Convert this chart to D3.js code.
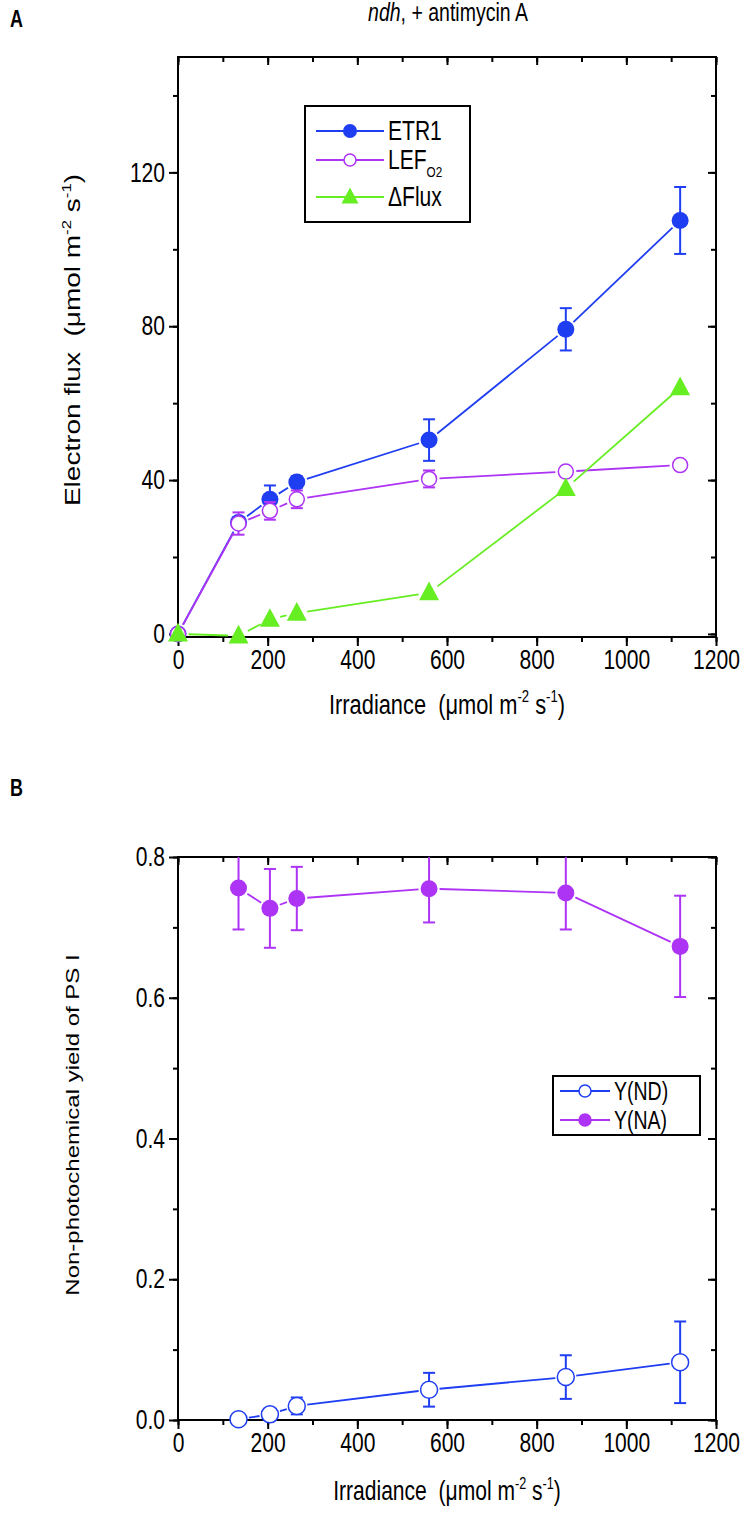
<!DOCTYPE html>
<html><head><meta charset="utf-8">
<script src="https://cdn.jsdelivr.net/npm/d3@7"></script>
<style>
body{margin:0;background:#fff;}
svg text{font-family:"Liberation Sans",Arial,sans-serif;fill:#000;}
</style></head>
<body><svg id="c" width="754" height="1528"></svg>
<script>
// ---------- DATA ----------
const irrA = [0, 135, 205, 265, 560, 865, 1120];
const etr1 = [0, 29, 35, 39.5, 50.4, 79.2, 107.5];
const etr1Err = [0, 0, 3.6, 1.5, 5.4, 5.5, 8.7];
const lef = [0, 28.7, 32, 35, 40.3, 42.2, 43.9];
const lefErr = [0, 2.9, 2.3, 2.3, 2.2, 1.0, 1.0];
const dflux = [0, -0.5, 3.8, 5.4, 10.7, 37.8, 64];

const irrB = [135, 205, 265, 560, 865, 1120];
const yND = [0.001, 0.008, 0.020, 0.043, 0.061, 0.082];
const yNDErr = [0, 0.008, 0.012, 0.024, 0.031, 0.058];
const yNA = [0.756, 0.727, 0.741, 0.755, 0.749, 0.673];
const yNAErr = [0.059, 0.056, 0.045, 0.048, 0.052, 0.072];

const xTicks = [0, 200, 400, 600, 800, 1000, 1200];
const yTicksA = [0, 40, 80, 120];
const yTicksB = [0, 0.2, 0.4, 0.6, 0.8];

const BLUE = "#1f3ef2", PURPLE = "#ad33f5", GREEN = "#66ee22";
const SX = 0.78; // horizontal condensing of the reference lettering

const svg = d3.select("#c");

function condense(sel) {
  sel.each(function () {
    const t = d3.select(this);
    const x = +(t.attr("x") || 0);
    t.attr("x", x / SX).attr("transform", `scale(${SX},1)`);
  });
}

function drawFrame(g, x, y, xMinor, yMinor, yFmt, xMaj, yMaj) {
  const [x0, x1] = x.range(), [yb, yt] = y.range();
  const bx = g.append("g").attr("transform", `translate(0,${yb})`)
    .call(d3.axisBottom(x).tickValues(xMinor).tickSize(5).tickFormat(""));
  bx.select(".domain").remove();
  bx.selectAll("line").attr("stroke-width", 2);
  const bxM = g.append("g").attr("transform", `translate(0,${yb})`)
    .call(d3.axisBottom(x).tickValues(xMaj).tickSize(9).tickPadding(4).tickFormat(d3.format("d")));
  bxM.select(".domain").remove();
  bxM.selectAll("line").attr("stroke-width", 2);
  bxM.selectAll("text").attr("font-size", 27).call(condense);
  const tx = g.append("g").attr("transform", `translate(0,${yt})`)
    .call(d3.axisBottom(x).tickValues(xMinor).tickSize(5).tickFormat(""));
  tx.select(".domain").remove(); tx.selectAll("line").attr("stroke-width", 2);
  const txM = g.append("g").attr("transform", `translate(0,${yt})`)
    .call(d3.axisBottom(x).tickValues(xMaj).tickSize(8).tickFormat(""));
  txM.select(".domain").remove(); txM.selectAll("line").attr("stroke-width", 2);
  const ly = g.append("g").attr("transform", `translate(${x0},0)`)
    .call(d3.axisLeft(y).tickValues(yMinor).tickSize(5).tickFormat(""));
  ly.select(".domain").remove(); ly.selectAll("line").attr("stroke-width", 2);
  const lyM = g.append("g").attr("transform", `translate(${x0},0)`)
    .call(d3.axisLeft(y).tickValues(yMaj).tickSize(9).tickPadding(4).tickFormat(yFmt));
  lyM.select(".domain").remove(); lyM.selectAll("line").attr("stroke-width", 2);
  lyM.selectAll("text").attr("font-size", 27).call(condense);
  const ry = g.append("g").attr("transform", `translate(${x1},0)`)
    .call(d3.axisLeft(y).tickValues(yMinor).tickSize(5).tickFormat(""));
  ry.select(".domain").remove(); ry.selectAll("line").attr("stroke-width", 2);
  const ryM = g.append("g").attr("transform", `translate(${x1},0)`)
    .call(d3.axisLeft(y).tickValues(yMaj).tickSize(8).tickFormat(""));
  ryM.select(".domain").remove(); ryM.selectAll("line").attr("stroke-width", 2);
  g.append("rect").attr("x", x0).attr("y", yt).attr("width", x1 - x0).attr("height", yb - yt)
    .attr("fill", "none").attr("stroke", "#000").attr("stroke-width", 2);
}

function gappedLine(g, pts, color, gap) {
  for (let i = 0; i < pts.length - 1; i++) {
    const [ax, ay] = pts[i], [bx, by] = pts[i + 1];
    const dx = bx - ax, dy = by - ay, L = Math.hypot(dx, dy);
    if (L <= 2 * gap) continue;
    const ux = dx / L, uy = dy / L;
    g.append("line").attr("x1", ax + ux * gap).attr("y1", ay + uy * gap)
      .attr("x2", bx - ux * gap).attr("y2", by - uy * gap)
      .attr("stroke", color).attr("stroke-width", 1.8);
  }
}

function errBars(g, xs, ys, es, x, y, color, clipTop) {
  xs.forEach((xv, i) => {
    if (!es[i]) return;
    const cx = x(xv);
    let top = y(ys[i] + es[i]);
    const bot = y(ys[i] - es[i]);
    const capTop = top >= clipTop;
    top = Math.max(top, clipTop);
    g.append("line").attr("x1", cx).attr("x2", cx).attr("y1", top).attr("y2", bot)
      .attr("stroke", color).attr("stroke-width", 2);
    if (capTop) g.append("line").attr("x1", cx - 6).attr("x2", cx + 6).attr("y1", top).attr("y2", top)
      .attr("stroke", color).attr("stroke-width", 2);
    g.append("line").attr("x1", cx - 6).attr("x2", cx + 6).attr("y1", bot).attr("y2", bot)
      .attr("stroke", color).attr("stroke-width", 2);
  });
}

function triPath(cx, cy, s) {
  const h = s * 0.9;
  return `M${cx},${cy - h * 0.62}L${cx + s / 2},${cy + h * 0.42}L${cx - s / 2},${cy + h * 0.42}Z`;
}

function ctext(parent, x, y, fs, anchor) {
  return parent.append("text").attr("transform", `translate(${x},${y}) scale(${SX},1)`)
    .attr("font-size", fs).attr("text-anchor", anchor || "start");
}
function vtext(parent, x, y, fs) {
  return parent.append("text").attr("transform", `translate(${x},${y}) rotate(-90) scale(1,${SX})`)
    .attr("font-size", fs).attr("text-anchor", "middle");
}
function unitLabel(sel, prefix, fs) {
  sel.append("tspan").text(prefix + "\u00a0 (\u03bcmol m");
  sel.append("tspan").attr("font-size", fs * 0.6).attr("dy", -fs * 0.42).text("-2");
  sel.append("tspan").attr("dy", fs * 0.42).text(" s");
  sel.append("tspan").attr("font-size", fs * 0.6).attr("dy", -fs * 0.42).text("-1");
  sel.append("tspan").attr("dy", fs * 0.42).text(")");
}

// ---------- PANEL A ----------
const xA = d3.scaleLinear().domain([0, 1200]).range([178, 716]);
const yA = d3.scaleLinear().domain([-0.8, 150]).range([637, 57]);
const gA = svg.append("g");
drawFrame(gA, xA, yA, d3.range(0, 1201, 100), d3.range(0, 141, 20), d3.format("d"), xTicks, yTicksA);

const R = 8.5;
errBars(gA, irrA, etr1, etr1Err, xA, yA, BLUE, 57);
gappedLine(gA, irrA.map((v, i) => [xA(v), yA(etr1[i])]), BLUE, R + 2);
gA.selectAll(".etr").data(irrA).enter().append("circle")
  .attr("cx", d => xA(d)).attr("cy", (d, i) => yA(etr1[i])).attr("r", R).attr("fill", BLUE);
errBars(gA, irrA, lef, lefErr, xA, yA, PURPLE, 57);
gappedLine(gA, irrA.map((v, i) => [xA(v), yA(lef[i])]), PURPLE, R + 2);
gA.selectAll(".lef").data(irrA).enter().append("circle")
  .attr("cx", d => xA(d)).attr("cy", (d, i) => yA(lef[i])).attr("r", R - 1)
  .attr("fill", "#fff").attr("stroke", PURPLE).attr("stroke-width", 1.5);
gappedLine(gA, irrA.map((v, i) => [xA(v), yA(dflux[i])]), GREEN, R + 2);
gA.selectAll(".df").data(irrA).enter().append("path")
  .attr("d", (d, i) => triPath(xA(d), yA(dflux[i]), 20)).attr("fill", GREEN);

// Legend A
const lgA = gA.append("g");
lgA.append("rect").attr("x", 305).attr("y", 106).attr("width", 165).attr("height", 116)
  .attr("fill", "#fff").attr("stroke", "#000").attr("stroke-width", 2);
const legA = [
  {name: "ETR1", color: BLUE, y: 131, type: "fill"},
  {name: "LEF", sub: "O2", color: PURPLE, y: 160, type: "open"},
  {name: "\u0394Flux", color: GREEN, y: 197, type: "tri"}
];
legA.forEach(d => {
  lgA.append("line").attr("x1", 316).attr("x2", 384).attr("y1", d.y).attr("y2", d.y)
    .attr("stroke", d.color).attr("stroke-width", 1.8);
  if (d.type === "fill") lgA.append("circle").attr("cx", 350).attr("cy", d.y).attr("r", 7).attr("fill", d.color);
  if (d.type === "open") lgA.append("circle").attr("cx", 350).attr("cy", d.y).attr("r", 6)
    .attr("fill", "#fff").attr("stroke", d.color).attr("stroke-width", 1.5);
  if (d.type === "tri") lgA.append("path").attr("d", triPath(350, d.y, 17)).attr("fill", d.color);
  const t = ctext(lgA, 388, d.y + 9, 27).text(d.name);
  if (d.sub) t.append("tspan").attr("font-size", 15).attr("dy", 8).text(d.sub);
});

// Title & labels A
ctext(svg, 10, 27, 23).attr("font-weight", "bold").text("A");
const ttl = ctext(svg, 448, 21, 25, "middle");
ttl.append("tspan").attr("font-style", "italic").text("ndh");
ttl.append("tspan").text(", + antimycin A");

unitLabel(ctext(svg, 447, 714, 28, "middle"), "Irradiance", 28);
unitLabel(vtext(svg, 80, 340, 28), "Electron flux", 28);

// ---------- PANEL B ----------
const xB = d3.scaleLinear().domain([0, 1200]).range([178, 716]);
const yB = d3.scaleLinear().domain([0, 0.8]).range([1420, 857]);
const gB = svg.append("g");
drawFrame(gB, xB, yB, d3.range(0, 1201, 100), d3.range(0, 0.81, 0.1), d3.format(".1f"), xTicks, yTicksB);

errBars(gB, irrB, yND, yNDErr, xB, yB, BLUE, 857);
gappedLine(gB, irrB.map((v, i) => [xB(v), yB(yND[i])]), BLUE, R + 2);
gB.selectAll(".nd").data(irrB).enter().append("circle")
  .attr("cx", d => xB(d)).attr("cy", (d, i) => yB(yND[i])).attr("r", R)
  .attr("fill", "#fff").attr("stroke", BLUE).attr("stroke-width", 1.5);
errBars(gB, irrB, yNA, yNAErr, xB, yB, PURPLE, 857);
gappedLine(gB, irrB.map((v, i) => [xB(v), yB(yNA[i])]), PURPLE, R + 2);
gB.selectAll(".na").data(irrB).enter().append("circle")
  .attr("cx", d => xB(d)).attr("cy", (d, i) => yB(yNA[i])).attr("r", R).attr("fill", PURPLE);

// Legend B
const lgB = gB.append("g");
lgB.append("rect").attr("x", 553).attr("y", 1076).attr("width", 147).attr("height", 59)
  .attr("fill", "#fff").attr("stroke", "#000").attr("stroke-width", 2);
[{name: "Y(ND)", color: BLUE, y: 1091, fill: false}, {name: "Y(NA)", color: PURPLE, y: 1120, fill: true}].forEach(d => {
  lgB.append("line").attr("x1", 560).attr("x2", 610).attr("y1", d.y).attr("y2", d.y)
    .attr("stroke", d.color).attr("stroke-width", 1.8);
  lgB.append("circle").attr("cx", 585).attr("cy", d.y).attr("r", 6)
    .attr("fill", d.fill ? d.color : "#fff").attr("stroke", d.color).attr("stroke-width", 1.5);
  ctext(lgB, 614, d.y + 9, 25).text(d.name);
});

ctext(svg, 10, 796, 23).attr("font-weight", "bold").text("B");
unitLabel(ctext(svg, 447, 1500, 27, "middle"), "Irradiance", 27);
vtext(svg, 79, 1125, 24).text("Non-photochemical yield of PS I");
</script></body></html>
